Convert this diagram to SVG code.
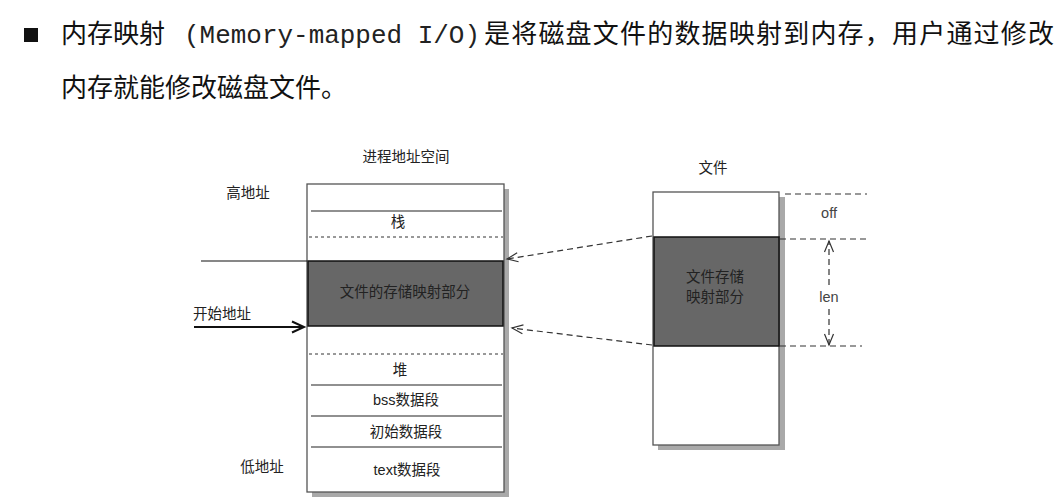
<svg xmlns="http://www.w3.org/2000/svg" width="1056" height="502" viewBox="0 0 1056 502">
<style>
.hd{font-family:"Noto Sans CJK SC","Liberation Sans",sans-serif;font-size:26px;fill:#111}
.mono{font-family:"Liberation Mono","Noto Sans CJK SC",monospace;font-size:26px;fill:#222}
.lb{font-family:"Liberation Sans","Noto Sans CJK SC",sans-serif;font-size:14.5px;fill:#222;text-anchor:middle}
.lbl{font-family:"Liberation Sans","Noto Sans CJK SC",sans-serif;font-size:14.5px;fill:#444;text-anchor:middle}
.box{fill:#fff;stroke:#555;stroke-width:1.3}
.shadow{fill:#a9a9a9}
.dark{fill:#676767;stroke:#111;stroke-width:1.5}
.sep{stroke:#222;stroke-width:1.2;fill:none}
.dot{stroke:#333;stroke-width:1;stroke-dasharray:3,3;fill:none}
.dash{stroke:#333;stroke-width:1.2;stroke-dasharray:6,4;fill:none}
</style>
<defs>
<marker id="open" markerUnits="userSpaceOnUse" markerWidth="14" markerHeight="12" refX="12" refY="6" orient="auto-start-reverse">
<path d="M1,1.5 L12,6 L1,10.5" fill="none" stroke="#333" stroke-width="1.2"/>
</marker>
<marker id="solid" markerUnits="userSpaceOnUse" markerWidth="16" markerHeight="14" refX="13" refY="7" orient="auto">
<path d="M1,1.5 L13,7 L1,12.5" fill="none" stroke="#111" stroke-width="2"/>
</marker>
</defs>

<g id="header">
<rect x="24" y="28" width="14" height="14" fill="#111"/>
<text class="hd" x="61" y="43">内存映射</text>
<text class="mono" x="184" y="43" textLength="296" lengthAdjust="spacingAndGlyphs">(Memory-mapped I/O)</text>
<text class="hd" x="484" y="43" textLength="570" lengthAdjust="spacing">是将磁盘文件的数据映射到内存，用户通过修改</text>
<text class="hd" x="61" y="97">内存就能修改磁盘文件。</text>
</g>

<g id="process-space">
<text class="lb" x="406" y="162">进程地址空间</text>
<rect class="shadow" x="312" y="189" width="197" height="308"/>
<rect class="box" x="307" y="184" width="197" height="308"/>
<line class="sep" x1="311" y1="211" x2="502" y2="211"/>
<text class="lb" x="398" y="227">栈</text>
<line class="dot" x1="309" y1="237" x2="503" y2="237"/>
<rect class="dark" x="308" y="261" width="195" height="65"/>
<text class="lb" x="405" y="297">文件的存储映射部分</text>
<line class="dot" x1="309" y1="354" x2="503" y2="354"/>
<text class="lb" x="400" y="375">堆</text>
<line class="sep" x1="311" y1="385" x2="502" y2="385"/>
<text class="lb" x="406" y="405">bss数据段</text>
<line class="sep" x1="311" y1="416" x2="502" y2="416"/>
<text class="lb" x="406" y="437">初始数据段</text>
<line class="sep" x1="311" y1="447" x2="502" y2="447"/>
<text class="lb" x="407" y="475">text数据段</text>
</g>

<g id="labels-left">
<text class="lb" x="248" y="198">高地址</text>
<text class="lb" x="222" y="319">开始地址</text>
<text class="lb" x="262" y="472">低地址</text>
</g>

<g id="file">
<text class="lb" x="713" y="173">文件</text>
<rect class="shadow" x="658" y="197" width="127" height="253"/>
<rect class="box" x="653" y="192" width="126" height="253"/>
<rect class="dark" x="654" y="237" width="125" height="109"/>
<text class="lb" x="715" y="282">文件存储</text>
<text class="lb" x="715" y="302">映射部分</text>
<text class="lbl" x="829" y="218">off</text>
<text class="lbl" x="829" y="302">len</text>
</g>

<g id="connectors">
<line x1="201" y1="261" x2="307" y2="261" stroke="#111" stroke-width="1.2"/>
<line x1="194" y1="327" x2="304" y2="327" stroke="#111" stroke-width="2" marker-end="url(#solid)"/>
<line class="dash" x1="652" y1="236" x2="507" y2="259" marker-end="url(#open)"/>
<line class="dash" x1="652" y1="345" x2="512" y2="328" marker-end="url(#open)"/>
<line class="dash" x1="785" y1="194" x2="867" y2="194"/>
<line class="dash" x1="780" y1="239" x2="867" y2="239"/>
<line class="dash" x1="780" y1="346" x2="862" y2="346"/>
<line class="dash" x1="829" y1="285" x2="829" y2="241" marker-end="url(#open)"/>
<line class="dash" x1="829" y1="309" x2="829" y2="345" marker-end="url(#open)"/>
</g>
</svg>
